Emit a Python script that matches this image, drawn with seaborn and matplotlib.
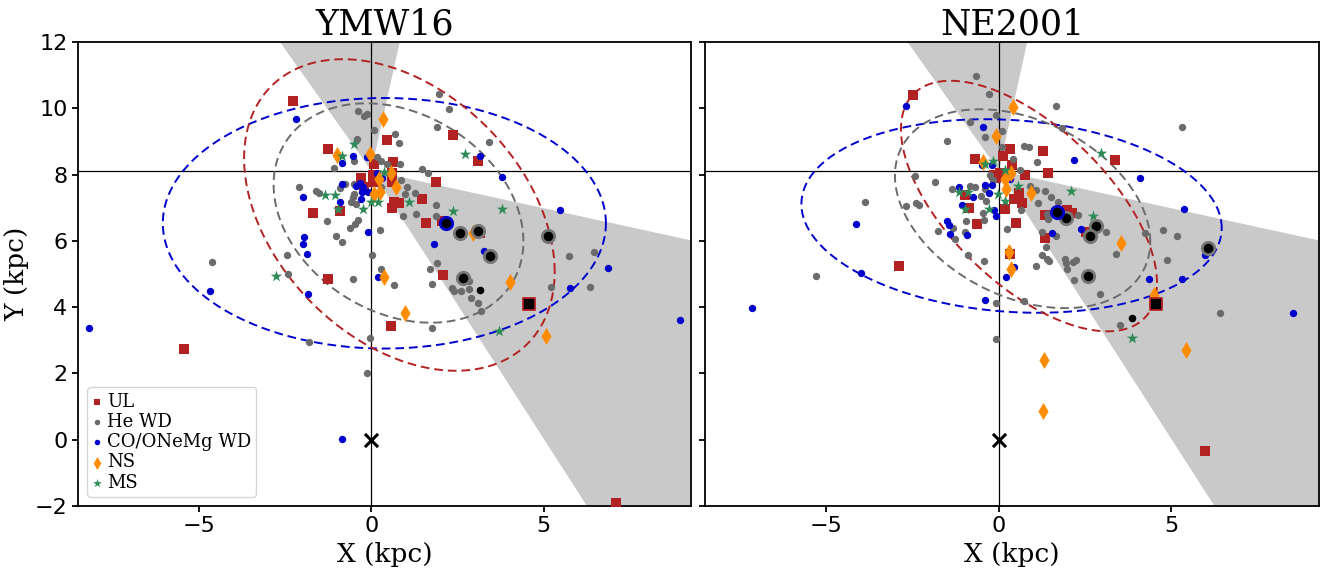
import numpy as np
import pandas as pd
import matplotlib
matplotlib.use("Agg")
import matplotlib.pyplot as plt
import seaborn as sns

# ---------------- data (kpc) ----------------
panels = ["YMW16", "NE2001"]
classes = ["UL", "He WD", "CO/ONeMg WD", "NS", "MS"]
sun_y = 8.12

# YMW16 panel
ymw_ul_x = [-2.27, -1.26, -1.68, -0.92, -1.26, 0.45, 0.64, 0.07, -0.29, 0.06, 0.06, 0.59, 0.60, -0.20, 2.37, 3.08,
            1.89, 1.48, 0.66, 0.81, 0.60, 1.59, 2.08, 0.58, 7.08, 3.15, 2.06, -5.43]
ymw_ul_y = [10.22, 8.76, 6.83, 6.91, 4.84, 9.04, 8.38, 8.32, 7.91, 7.99, 7.78, 8.04, 7.77, 7.63, 9.18, 8.40,
            7.77, 7.25, 7.16, 7.15, 7.00, 6.53, 4.97, 3.44, -1.90, 6.25, 6.60, 2.74]
ymw_he_x = [-0.39, -0.20, -0.11, 0.09, -0.40, -0.49, -1.09, -0.77, -0.91, -0.50, -0.49, -0.52, -0.59, -0.43, -0.38,
            -0.47, -0.63, -1.03, -0.85, -1.28, -2.08, -1.60, -1.50, 0.68, 0.81, 0.18, 0.28, 0.47, 0.83, 1.05,
            0.99, 1.27, 0.92, 1.30, 1.87, 1.87, 0.24, 0.01, 0.29, -0.54, 0.65, -2.45, -2.42, -1.79, -0.05,
            -0.11, 1.47, 1.63, 1.96, 2.25, 1.90, 3.42, 1.71, 1.91, 1.75, 2.33, 2.40, 2.60, 2.83, 2.84,
            2.88, 3.10, 3.17, 1.77, 5.74, 6.45, 5.22, 6.35, -4.62, 0.28, 0.86]
ymw_he_y = [9.92, 9.77, 9.83, 9.34, 9.08, 8.42, 8.19, 7.71, 7.58, 7.73, 7.42, 7.31, 7.16, 7.11, 6.63,
            6.50, 6.40, 6.16, 5.98, 6.61, 7.62, 7.49, 7.45, 9.21, 8.96, 8.52, 8.42, 8.31, 8.33, 7.63,
            7.40, 7.45, 6.76, 6.82, 7.08, 6.76, 6.32, 5.57, 5.14, 4.86, 4.68, 5.57, 5.00, 2.96, 3.06,
            2.02, 8.18, 8.06, 10.43, 9.97, 9.45, 8.97, 5.14, 5.32, 4.69, 4.59, 4.50, 4.50, 4.54, 4.80,
            4.28, 4.12, 3.89, 3.36, 5.54, 5.67, 4.62, 4.62, 5.35, 7.63, 7.85]
ymw_co_x = [-2.17, -0.84, -0.54, -0.13, -1.99, -0.84, -0.43, -0.34, -0.23, -0.27, -0.10, -0.31, -0.92, 0.17, 0.31,
            -1.96, -1.97, -1.86, -0.09, -4.66, -1.82, 0.20, -0.85, 1.82, 3.26, 3.15, 3.80, 5.47, 6.85, 5.77,
            8.94, -8.18]
ymw_co_y = [9.68, 8.34, 8.57, 8.52, 7.33, 7.73, 7.65, 7.75, 7.62, 7.46, 7.48, 7.27, 7.18, 8.05, 7.89,
            6.13, 5.91, 5.61, 6.26, 4.48, 4.39, 4.91, 0.03, 5.89, 5.70, 8.57, 7.93, 6.94, 5.19, 4.58,
            3.61, 3.37]
ymw_ns_x = [0.33, -0.98, -0.03, 0.57, 0.21, 0.71, 0.25, 0.09, 0.36, 0.99, 4.02, 5.06, 2.96]
ymw_ns_y = [9.67, 8.59, 8.62, 8.04, 7.86, 7.62, 7.47, 7.41, 4.92, 3.81, 4.75, 3.13, 6.23]
ymw_ms_x = [-0.50, -0.84, 0.36, -1.35, -1.04, -0.97, -0.25, -0.01, 0.19, 1.10, 2.37, 3.78, 2.72, -2.76, 3.71]
ymw_ms_y = [8.92, 8.57, 8.09, 7.37, 7.37, 6.95, 6.96, 7.18, 7.16, 7.16, 6.91, 6.96, 8.61, 4.94, 3.28]
ymw_hl_he_x = [2.57, 3.08, 3.45, 2.65, 5.13]
ymw_hl_he_y = [6.24, 6.29, 5.55, 4.87, 6.15]
ymw_hl_co_x = [2.17]
ymw_hl_co_y = [6.53]
ymw_hl_dot_x = [3.16]
ymw_hl_dot_y = [4.51]
ymw_hl_ul_x = [4.56]
ymw_hl_ul_y = [4.09]

# NE2001 panel
ne_ul_x = [-2.49, -0.69, 0.32, 0.13, 0.39, 1.29, 3.37, 1.43, 0.76, -0.14, 0.03, -0.07, -0.97, -0.85, -0.62, 0.19,
           0.45, 0.58, 0.68, 0.49, 1.35, 1.97, 2.13, 1.34, 2.53, -2.89, 5.97, 0.32]
ne_ul_y = [10.40, 8.48, 8.76, 8.57, 8.29, 8.70, 8.43, 8.06, 7.98, 7.99, 8.04, 7.89, 7.38, 7.00, 6.51, 6.96,
           7.25, 7.43, 7.15, 6.54, 6.77, 6.93, 6.83, 6.10, 6.28, 5.24, -0.34, 5.60]
ne_he_x = [-0.65, -0.28, -0.09, -0.84, -0.40, -1.51, -2.44, -1.86, -3.89, -2.69, -2.41, -2.32, -5.29, -1.76, -1.34,
           -1.27, -0.94, -0.98, -0.89, -0.44, -0.08, -0.07, -1.37, -0.82, -0.69, -0.52, -0.40, -0.37, -0.45, -0.42,
           -0.26, -0.16, 1.65, 0.08, 1.83, 0.72, 0.88, 0.10, 0.41, 1.12, 0.61, 0.90, 1.09, 1.35, 1.50,
           1.73, 1.13, 0.64, 1.40, 2.29, 3.11, 3.40, 1.25, 1.41, 2.23, 1.43, 1.67, 1.26, 1.36, 1.45,
           1.07, 1.92, 1.94, 2.15, 1.97, 2.18, 4.24, 4.77, 5.15, 4.87, 2.92, 3.50, 6.41, 0.73, 0.25, 5.31]
ne_he_y = [10.98, 10.43, 9.81, 9.60, 9.12, 9.00, 7.95, 7.78, 7.18, 7.06, 7.15, 7.09, 4.95, 6.30, 6.40,
           6.07, 6.60, 6.27, 5.57, 5.38, 4.11, 3.03, 7.55, 7.66, 7.62, 7.35, 7.55, 7.20, 6.83, 6.63,
           7.99, 7.84, 10.07, 9.32, 9.41, 8.86, 8.83, 8.82, 8.47, 8.39, 8.14, 7.65, 7.53, 7.50, 7.33,
           7.17, 7.13, 6.93, 6.80, 6.77, 6.28, 5.59, 5.56, 5.45, 5.42, 6.65, 6.16, 6.27, 5.82, 5.39,
           5.25, 5.44, 5.32, 5.36, 5.14, 4.81, 6.24, 6.33, 6.15, 5.43, 4.39, 3.47, 3.83, 4.19, 6.35, 9.43]
ne_co_x = [-2.70, -0.47, -4.14, -3.98, -7.14, -0.40, -1.51, -1.43, -1.40, -0.93, -1.14, -0.76, -0.39, -0.19, -0.28,
           -0.50, -0.21, -0.09, -1.06, -0.14, 0.32, 2.18, 4.10, 5.37, 1.54, 2.39, 4.36, 5.31, 5.97, 0.20,
           0.44, 8.52]
ne_co_y = [10.07, 9.43, 6.50, 5.02, 3.97, 4.23, 6.61, 6.48, 6.22, 6.19, 7.61, 7.31, 7.68, 7.70, 7.43,
           8.28, 8.29, 6.75, 7.08, 6.93, 7.86, 8.44, 7.91, 6.97, 6.25, 6.36, 4.86, 4.86, 5.56, 4.92,
           5.22, 3.82]
ne_ns_x = [0.40, -0.08, -0.47, 0.34, 0.17, 0.22, 0.94, 3.53, 0.29, 0.34, 4.51, 5.42, 1.31, 1.27]
ne_ns_y = [10.03, 9.16, 8.38, 8.06, 7.86, 7.55, 7.43, 5.95, 5.67, 5.14, 4.37, 2.72, 2.42, 0.88]
ne_ms_x = [-0.17, -0.40, 0.19, 0.56, -1.15, -0.90, -0.02, 0.19, -0.98, -0.27, 2.09, 2.96, 2.73, 3.86]
ne_ms_y = [8.42, 8.32, 8.14, 7.65, 7.48, 7.46, 7.40, 7.20, 6.96, 6.96, 7.49, 8.64, 6.75, 3.06]
ne_hl_he_x = [1.94, 2.82, 2.64, 2.58, 6.05]
ne_hl_he_y = [6.70, 6.45, 6.14, 4.94, 5.79]
ne_hl_co_x = [1.69]
ne_hl_co_y = [6.88]
ne_hl_dot_x = [3.86]
ne_hl_dot_y = [3.67]
ne_hl_ul_x = [4.56]
ne_hl_ul_y = [4.09]

# ellipses: centre x, centre y, half-extent x, half-extent y, cross term  (order: CO, He, UL)
ymw_ell_cx = [0.38, 0.79, 0.815]
ymw_ell_cy = [6.53, 6.84, 6.78]
ymw_ell_ex = [6.42, 3.62, 4.50]
ymw_ell_ey = [3.78, 3.31, 4.70]
ymw_ell_sxy = [0.0, -3.1, -7.7]
ne_ell_cx = [0.37, 0.69, 0.875]
ne_ell_cy = [6.75, 6.97, 7.05]
ne_ell_ex = [6.09, 3.70, 3.71]
ne_ell_ey = [2.92, 3.00, 3.78]
ne_ell_sxy = [-2.2, -3.7, -8.6]

# shaded wedges seen from the Sun (degrees)
wedge_upper_deg = [78.0, 124.3]
wedge_lower_deg = [-58.3, -12.8]

# ---------------- styling ----------------
sns.set_style("ticks")
plt.rcParams['font.family'] = ['DejaVu Sans']
plt.rcParams['axes.edgecolor'] = 'black'
plt.rcParams['axes.linewidth'] = 1.3
plt.rcParams['xtick.major.width'] = 1.3
plt.rcParams['ytick.major.width'] = 1.3
plt.rcParams['xtick.color'] = 'black'
plt.rcParams['ytick.color'] = 'black'
plt.rcParams['text.color'] = 'black'
plt.rcParams['axes.labelcolor'] = 'black'

col = {"UL": "#b22222", "He WD": "#6b6b6b", "CO/ONeMg WD": "#0000cd", "NS": "#ff8c00", "MS": "#2e8b57"}
mk = {"UL": "s", "He WD": "o", "CO/ONeMg WD": "o", "NS": "d", "MS": "*"}
sz = {"UL": 45, "He WD": 28, "CO/ONeMg WD": 28, "NS": 75, "MS": 75}
ell_cols = ["#0000cd", "#6b6b6b", "#b22222"]

data = {
    "YMW16": dict(UL=(ymw_ul_x, ymw_ul_y), He=(ymw_he_x, ymw_he_y), CO=(ymw_co_x, ymw_co_y),
                  NS=(ymw_ns_x, ymw_ns_y), MS=(ymw_ms_x, ymw_ms_y),
                  hl_he=(ymw_hl_he_x, ymw_hl_he_y), hl_co=(ymw_hl_co_x, ymw_hl_co_y),
                  hl_dot=(ymw_hl_dot_x, ymw_hl_dot_y), hl_ul=(ymw_hl_ul_x, ymw_hl_ul_y),
                  ell=(ymw_ell_cx, ymw_ell_cy, ymw_ell_ex, ymw_ell_ey, ymw_ell_sxy)),
    "NE2001": dict(UL=(ne_ul_x, ne_ul_y), He=(ne_he_x, ne_he_y), CO=(ne_co_x, ne_co_y),
                   NS=(ne_ns_x, ne_ns_y), MS=(ne_ms_x, ne_ms_y),
                   hl_he=(ne_hl_he_x, ne_hl_he_y), hl_co=(ne_hl_co_x, ne_hl_co_y),
                   hl_dot=(ne_hl_dot_x, ne_hl_dot_y), hl_ul=(ne_hl_ul_x, ne_hl_ul_y),
                   ell=(ne_ell_cx, ne_ell_cy, ne_ell_ex, ne_ell_ey, ne_ell_sxy)),
}
keymap = {"UL": "UL", "He WD": "He", "CO/ONeMg WD": "CO", "NS": "NS", "MS": "MS"}


def ellipse_xy(cx, cy, ex, ey, sxy, n=400):
    m = np.array([[ex ** 2, sxy], [sxy, ey ** 2]])
    low = np.linalg.cholesky(m)
    t = np.linspace(0, 2 * np.pi, n)
    p = low @ np.vstack([np.cos(t), np.sin(t)])
    return cx + p[0], cy + p[1]


def wedge_xy(apex, angles, r=40.0):
    a = np.deg2rad(np.linspace(angles[0], angles[1], 50))
    xs = np.concatenate([[apex[0]], apex[0] + r * np.cos(a)])
    ys = np.concatenate([[apex[1]], apex[1] + r * np.sin(a)])
    return xs, ys


fig, axes = plt.subplots(1, 2, figsize=(13.21, 5.8), dpi=100, sharey=True)
fig.subplots_adjust(left=0.059, right=0.9985, bottom=0.1276, top=0.9276, wspace=0.0228)

serif = 'DejaVu Serif'
for ax, name in zip(axes, panels):
    d = data[name]
    for ang in (wedge_upper_deg, wedge_lower_deg):
        wx, wy = wedge_xy((0.0, sun_y), ang)
        ax.fill(wx, wy, color='#c9c9c9', lw=0, zorder=0.5)
    ax.axhline(sun_y, color='black', lw=0.9, zorder=1)
    ax.axvline(0.0, color='black', lw=0.9, zorder=1)

    cx, cy, ex, ey, sxy = d["ell"]
    for i in range(3):
        exs, eys = ellipse_xy(cx[i], cy[i], ex[i], ey[i], sxy[i])
        ax.plot(exs, eys, ls=(0, (4.5, 2.5)), lw=1.4, color=ell_cols[i], zorder=1.5)

    for c in classes:
        xs, ys = d[keymap[c]]
        sns.scatterplot(x=xs, y=ys, ax=ax, color=col[c], marker=mk[c], s=sz[c],
                        linewidth=0, label=c, zorder=3, legend=False)

    xs, ys = d["hl_he"]
    sns.scatterplot(x=xs, y=ys, ax=ax, color='black', edgecolor='#777777', linewidth=2.0, s=80, zorder=4,
                    legend=False)
    xs, ys = d["hl_co"]
    sns.scatterplot(x=xs, y=ys, ax=ax, color='black', edgecolor='#0000cd', linewidth=2.0, s=80, zorder=4,
                    legend=False)
    xs, ys = d["hl_dot"]
    sns.scatterplot(x=xs, y=ys, ax=ax, color='black', linewidth=0, s=30, zorder=4, legend=False)
    xs, ys = d["hl_ul"]
    sns.scatterplot(x=xs, y=ys, ax=ax, color='black', edgecolor='#b22222', marker='s', linewidth=1.3, s=65,
                    zorder=4, legend=False)
    sns.scatterplot(x=[0.0], y=[0.0], ax=ax, color='black', marker='x', s=90, linewidth=2.2, zorder=4,
                    legend=False)

    ax.set_xlim(-8.5, 9.28)
    ax.set_ylim(-2, 12)
    ax.set_xticks([-5, 0, 5])
    ax.set_yticks([-2, 0, 2, 4, 6, 8, 10, 12])
    ax.tick_params(labelsize=16, length=4)
    ax.set_title(name, fontsize=25, family=serif, pad=5)
    ax.set_xlabel("X (kpc)", fontsize=19, family=serif)

axes[0].set_ylabel("Y (kpc)", fontsize=19, family=serif)
axes[1].set_ylabel("")
handles, labels = axes[0].get_legend_handles_labels()
axes[0].legend(handles[:5], labels[:5], loc='lower left', prop={'family': serif, 'size': 13},
               markerscale=0.75, handlelength=0.5, handletextpad=0.3, labelspacing=0.12, borderpad=0.3,
               borderaxespad=0.5)
for ax in axes:
    for s in ax.spines.values():
        s.set_visible(True)

fig.savefig("out.png", dpi=100)
